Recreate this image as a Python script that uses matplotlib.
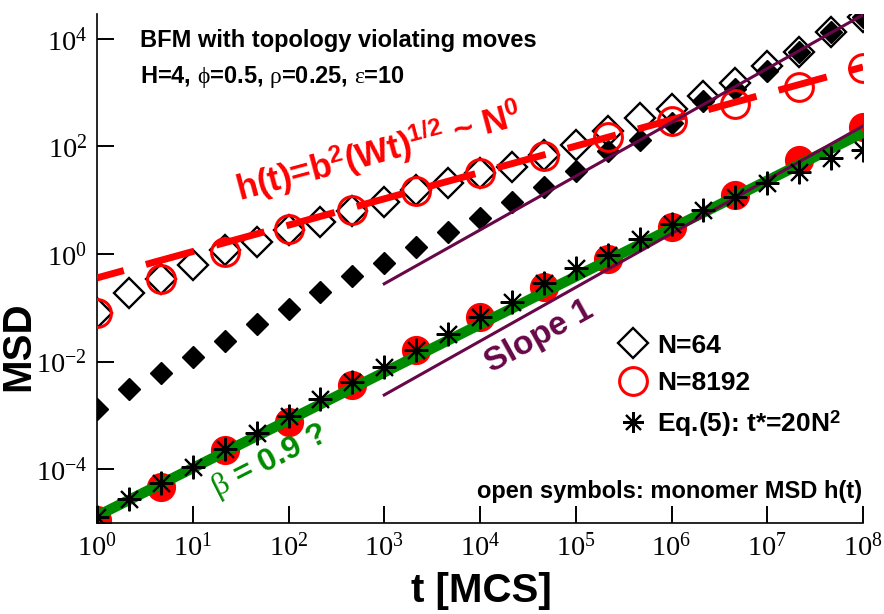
import numpy as np
import matplotlib
matplotlib.use("Agg")
import matplotlib.pyplot as plt
from matplotlib.lines import Line2D

plt.rcParams['font.family'] = ['Liberation Sans', 'DejaVu Sans']
plt.rcParams['mathtext.fontset'] = 'custom'
plt.rcParams['mathtext.rm'] = 'Liberation Serif'
plt.rcParams['mathtext.it'] = 'Liberation Serif'
plt.rcParams['mathtext.bf'] = 'Liberation Sans:bold'

# времена (MCS)
t_all = [1, 2.15, 4.64, 10, 21.5, 46.4, 100, 215, 464, 1e3, 2.15e3, 4.64e3,
         1e4, 2.15e4, 4.64e4, 1e5, 2.15e5, 4.64e5, 1e6, 2.15e6, 4.64e6,
         1e7, 2.15e7, 4.64e7, 1e8]
t_half = [1, 4.64, 21.5, 100, 464, 2.15e3, 1e4, 4.64e4, 2.15e5, 1e6,
          4.64e6, 2.15e7, 1e8]

# N=64: MSD мономера (открытые) и центра масс (закрашенные)
n64_mono = [0.079, 0.19, 0.35, 0.63, 1.17, 1.7, 2.8, 4.0, 6.2, 9.3, 15.5, 21,
            32, 42, 69, 105, 195, 331, 500, 870, 1510, 3090, 5620, 13200, 25100]
n64_cm = [1.29e-3, 3.16e-3, 6.2e-3, 1.23e-2, 2.45e-2, 5.0e-2, 9.5e-2, 0.20,
          0.39, 0.68, 1.35, 2.6, 4.7, 9.3, 17.8, 34.7, 83, 132, 275, 692,
          1175, 2570, 5620, 13200, 25100]

# N=8192
n8192_mono = [0.079, 0.35, 1.1, 2.9, 6.6, 14.8, 31.6, 66, 148, 295, 603,
              1260, 2820]
n8192_cm = [1.15e-5, 4.6e-5, 2.3e-4, 7.6e-4, 3.7e-3, 1.66e-2, 6.8e-2, 0.245,
            0.81, 3.16, 12.3, 55, 234]

# Eq.(5)
eq5 = [1.32e-5, 2.8e-5, 5.6e-5, 1.12e-4, 2.4e-4, 4.8e-4, 9.8e-4, 2.04e-3,
       4.1e-3, 7.9e-3, 1.66e-2, 3.3e-2, 6.8e-2, 0.129, 0.29, 0.55, 0.95, 1.9,
       3.6, 6.6, 11.5, 20.9, 33, 60, 85]

# линии
h_t = [1, 1e8]
h_y = [0.36, 3.0e3]
beta_t = [1, 1e8]
beta_y = [1.35e-5, 1.8e2]
slope_t = [1e3, 1e8]
slope_up = [0.28, 2.8e4]
slope_low = [2.4e-3, 2.4e2]

red = '#ff0000'
green = '#008b00'
maroon = '#670748'

fig = plt.figure(figsize=(8.84, 6.14), dpi=100)
ax = fig.add_axes([97/884, 91/614, 766/884, 509/614])

ax.plot(t_all, n64_cm, 'D', ms=11, color='black', mec='black', zorder=2)
ax.plot(t_all, n64_mono, 'D', ms=15, mfc='none', mec='black', mew=1.7, zorder=3)
ax.plot(t_half, n8192_mono, 'o', ms=20, mfc='none', mec=red, mew=2.2, zorder=3)
ax.plot(h_t, h_y, color=red, lw=5, ls=(3.2, (7.2, 3.3)), zorder=4)
ax.plot(t_half, n8192_cm, 'o', ms=20, color=red, mec=red, zorder=2)
ax.plot(beta_t, beta_y, color=green, lw=7.5, solid_capstyle='butt', zorder=4)
ax.plot(slope_t, slope_up, color=maroon, lw=2.2, zorder=5)
ax.plot(slope_t, slope_low, color=maroon, lw=2.2, zorder=5)
ax.plot(t_all, eq5, ls='none', marker=(8, 2, 0), ms=17, mec='black', mew=1.5,
        zorder=6)

ax.set_xscale('log')
ax.set_yscale('log')
ax.set_xlim(1, 1e8)
ax.set_ylim(1e-5, 2.9e4)

xt = [10.0**k for k in range(0, 9)]
yt = [10.0**k for k in range(-4, 5, 2)]
ax.set_xticks(xt)
ax.set_xticklabels([r'$\mathrm{10^{%d}}$' % k for k in range(0, 9)])
ax.set_yticks(yt)
ax.set_yticklabels([r'$\mathrm{10^{%d}}$' % k for k in range(-4, 5, 2)])
ax.minorticks_off()
ax.tick_params(direction='in', length=12, width=1.4, labelsize=20.5, pad=7)
for s in ['top', 'right']:
    ax.spines[s].set_visible(False)
for s in ['left', 'bottom']:
    ax.spines[s].set_linewidth(1.2)

fig.text(481/884, 12/614, 't [MCS]', ha='center', va='baseline', fontsize=29,
         fontweight='bold')
fig.text(18/884, 268/614, 'MSD', ha='center', va='center', rotation=90,
         fontsize=29, fontweight='bold')

ax.text(0.056, 0.935, 'BFM with topology violating moves', transform=ax.transAxes,
        fontsize=17, fontweight='bold', va='baseline')
ax.text(0.056, 0.864, r'H=4, $\phi$=0.5, $\rho$=0.25, $\varepsilon$=10',
        transform=ax.transAxes, fontsize=17, fontweight='bold', va='baseline')
ax.text(0.9987, 0.049, 'open symbols: monomer MSD h(t)', transform=ax.transAxes,
        fontsize=17, fontweight='bold', ha='right', va='baseline')

ax.text(31, 9.4, r'h(t)=b$^\mathbf{2}$(Wt)$^\mathbf{1/2}$ ~ N$^\mathbf{0}$',
        color=red, fontsize=25, fontweight='bold', rotation=15,
        rotation_mode='anchor', ha='left', va='baseline', zorder=7)
ax.text(64, 1.4e-4, r'$\beta$ = 0.9 ?', color=green, fontsize=23,
        fontweight='bold', rotation=27, rotation_mode='anchor',
        ha='center', va='center', zorder=7)
ax.text(4.2e4, 2.95e-2, 'Slope 1', color=maroon, fontsize=24, fontweight='bold',
        rotation=29, rotation_mode='anchor', ha='center', va='center', zorder=7)

handles = [
    Line2D([], [], ls='none', marker='D', ms=15, mfc='none', mec='black', mew=1.7),
    Line2D([], [], ls='none', marker='o', ms=20, mfc='none', mec=red, mew=2.2),
    Line2D([], [], ls='none', marker=(8, 2, 0), ms=15, mec='black', mew=1.5),
]
labels = ['N=64', 'N=8192', r'Eq.(5): t*=20N$^\mathbf{2}$']
ax.legend(handles, labels, loc='upper left', bbox_to_anchor=(0.683, 0.372),
          frameon=False, prop={'weight': 'bold', 'size': 19}, handlelength=1.0,
          handletextpad=0.4, borderaxespad=0, borderpad=0, labelspacing=0.5)

fig.savefig('out.png', dpi=100)
